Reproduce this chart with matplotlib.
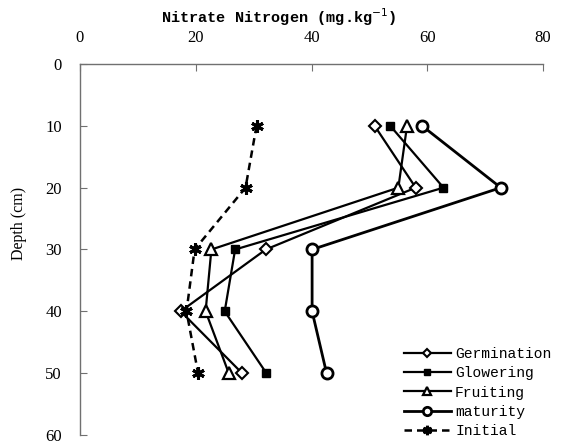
import matplotlib.pyplot as plt
import numpy as np

# nitrate nitrogen profile by soil depth for each growth stage
depth = [10, 20, 30, 40, 50]
germination = [50.9, 58.0, 32.1, 17.4, 28.0]
glowering = [53.6, 62.8, 26.8, 25.0, 32.2]
fruiting = [56.5, 55.0, 22.7, 21.7, 25.7]
maturity = [59.1, 72.7, 40.1, 40.1, 42.6]
initial = [30.5, 28.6, 19.8, 18.4, 20.4]

x_ticks = [0, 20, 40, 60, 80]
y_ticks = [0, 10, 20, 30, 40, 50, 60]

serif = 'Liberation Serif'
mono = 'Liberation Mono'

fig = plt.figure(figsize=(5.61, 4.46), dpi=100)
ax = fig.add_axes([0.1426, 0.0247, 0.8254, 0.8318])

ax.plot(germination, depth, color='black', lw=1.6, marker='D', ms=6,
        mfc='white', mec='black', mew=1.5, label='Germination')
ax.plot(glowering, depth, color='black', lw=1.6, marker='s', ms=6,
        mfc='black', mec='black', label='Glowering')
ax.plot(fruiting, depth, color='black', lw=1.6, marker='^', ms=8,
        mfc='white', mec='black', mew=1.6, label='Fruiting')
ax.plot(maturity, depth, color='black', lw=2.0, marker='o', ms=8,
        mfc='white', mec='black', mew=2.0, label='maturity')
ax.plot(initial, depth, color='black', lw=1.8, ls=(0, (3, 2)), marker=(6, 2, 0),
        ms=9, mec='black', mew=2.2, label='Initial')

ax.set_xlim(0, 80)
ax.set_ylim(60, 0)
ax.set_xticks(x_ticks)
ax.set_yticks(y_ticks)
ax.xaxis.tick_top()
ax.tick_params(axis='x', direction='in', length=5, color='#707070', pad=13,
               labelsize=12)
ax.tick_params(axis='y', direction='in', length=5, color='#707070', pad=13,
               labelsize=12)
for lab in ax.get_xticklabels() + ax.get_yticklabels():
    lab.set_fontfamily(serif)

for side in ['right', 'bottom']:
    ax.spines[side].set_visible(False)
for side in ['left', 'top']:
    ax.spines[side].set_color('#707070')
    ax.spines[side].set_linewidth(1.0)

ax.xaxis.set_label_position('top')
ax.set_xlabel('Nitrate Nitrogen (mg.kg$^{-1}$)', fontfamily=mono,
              fontweight='bold', fontsize=11)
ax.xaxis.set_label_coords(0.43, 1.11)
ax.set_ylabel('Depth (cm)', fontfamily=serif, fontsize=11.5)
ax.yaxis.set_label_coords(-0.115, 0.57)

ax.legend(loc='lower right', bbox_to_anchor=(1.04, -0.035), frameon=False,
          prop={'family': mono, 'size': 10.5}, handlelength=3.2,
          handletextpad=0.3, labelspacing=0.35, borderpad=0.2,
          markerscale=0.75)

fig.savefig('out.png', dpi=100)
